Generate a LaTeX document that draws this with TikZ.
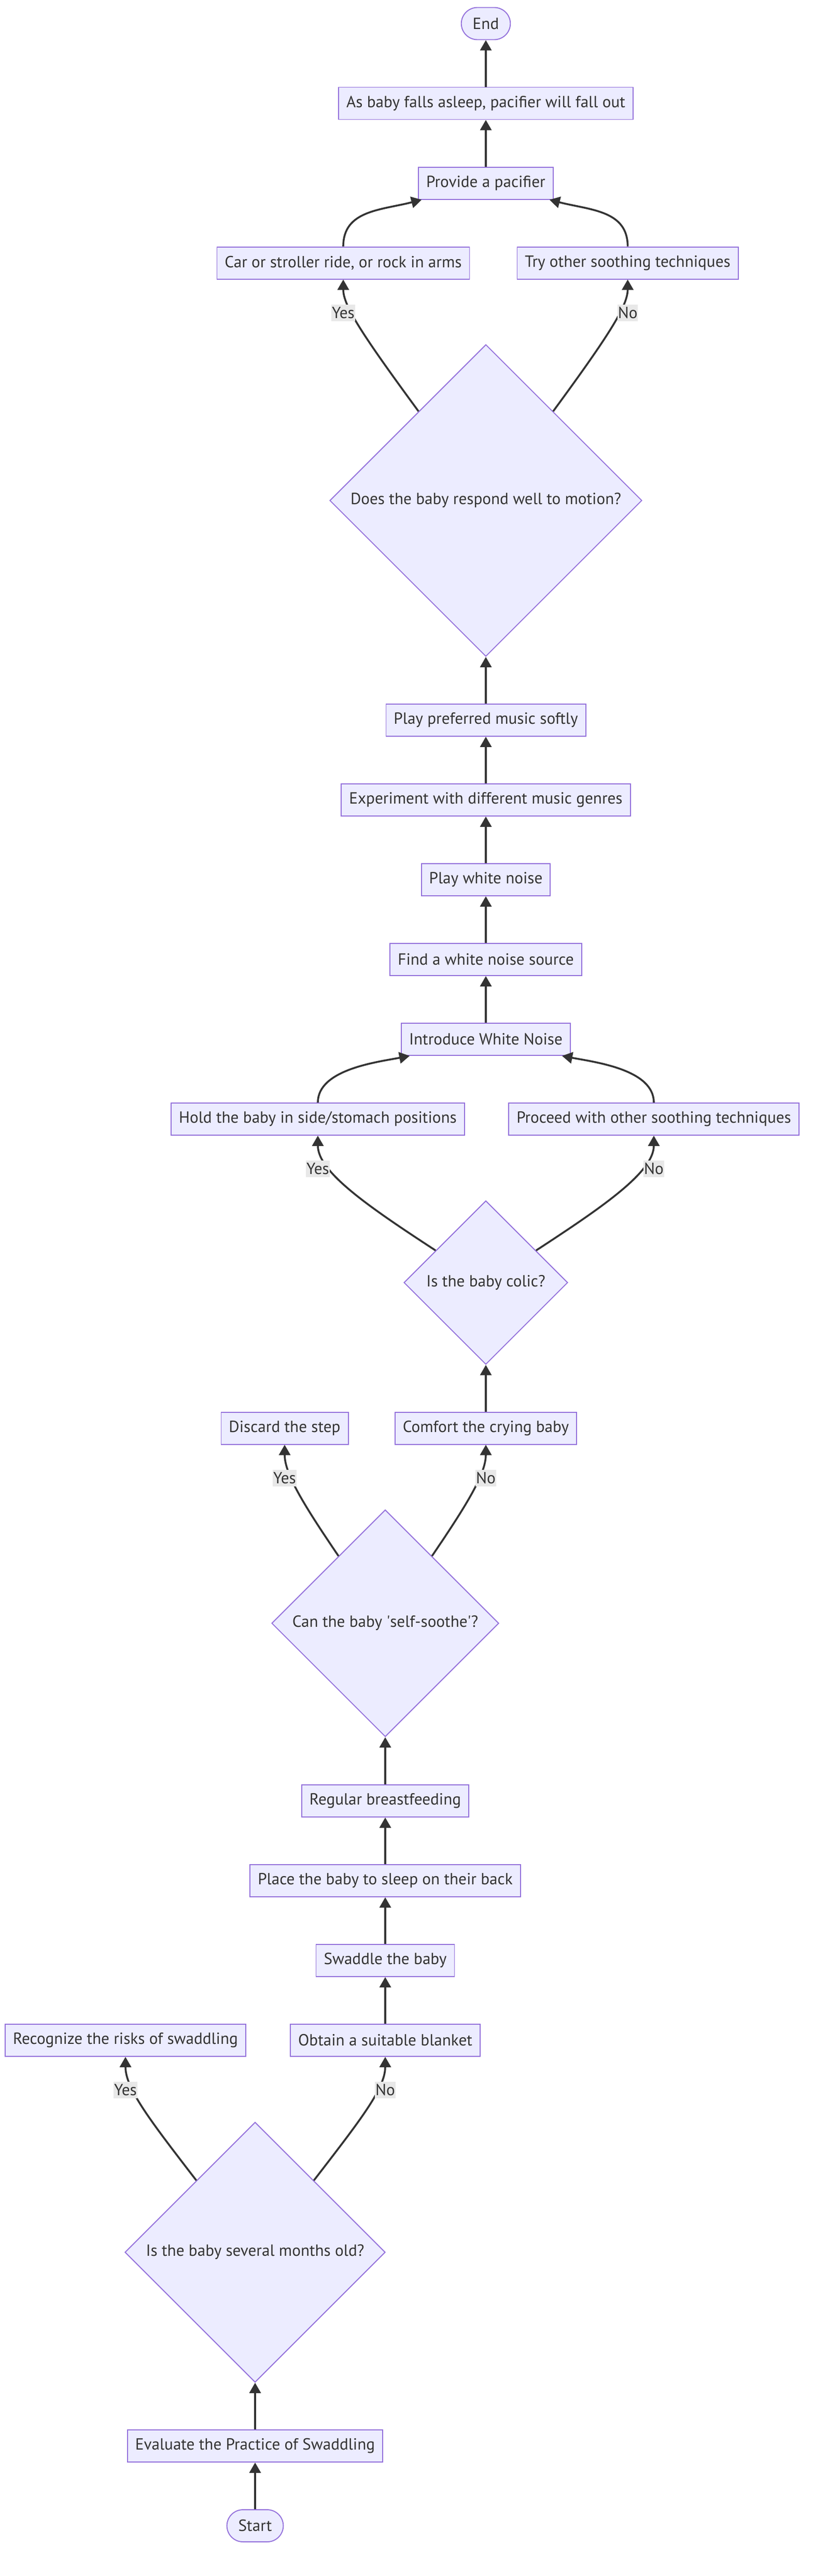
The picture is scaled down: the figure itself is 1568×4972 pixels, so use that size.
\documentclass[tikz,border=0pt]{standalone}
\usepackage{fontspec}
\setmainfont{PT Sans}
\usetikzlibrary{arrows.meta,shapes.geometric,calc}

\definecolor{boxfill}{HTML}{ECECFF}
\definecolor{boxline}{HTML}{9370DB}
\definecolor{ink}{HTML}{333333}
\definecolor{lblfill}{HTML}{E8E8E8}

\tikzset{
  stepbox/.style={draw=boxline,fill=boxfill,line width=1.9pt,minimum height=62pt,inner xsep=15pt,text=ink},
  term/.style={stepbox,rounded corners=31pt,inner xsep=22pt},
  decision/.style={diamond,aspect=1,draw=boxline,fill=boxfill,line width=1.9pt,inner sep=0pt,text=ink},
  flow/.style={draw=ink,line width=3.6pt,-{Triangle[length=20pt,width=22pt]}},
  lbl/.style={fill=lblfill,inner xsep=1pt,inner ysep=0pt,minimum height=32pt,text=ink}
}

\begin{document}
\begin{tikzpicture}[x=1pt,y=-1pt,font=\fontsize{31.2}{37}\selectfont]
\useasboundingbox (0,0) rectangle (1568,4972);
\pgfmathsetmacro{\C}{937}
\pgfmathsetmacro{\S}{743}
\pgfmathsetmacro{\W}{492}

\node[term] (end) at (\C,45.5) {End};
\node[stepbox] (fall) at (\C,199.5) {As baby falls asleep, pacifier will fall out};
\node[stepbox] (pacifier) at (\C,353.6) {Provide a pacifier};
\node[stepbox] (motion) at (662,507.6) {Car or stroller ride, or rock in arms};
\node[stepbox] (other) at (1210.6,507.6) {Try other soothing techniques};
\node[decision,minimum size=602pt] (dmotion) at (\C,966) {Does the baby respond well to motion?};
\node[stepbox] (music) at (\C,1390) {Play preferred music softly};
\node[stepbox] (genres) at (\C,1544) {Experiment with different music genres};
\node[stepbox] (play) at (\C,1698) {Play white noise};
\node[stepbox] (source) at (\C,1852) {Find a white noise source};
\node[stepbox] (noise) at (\C,2006) {Introduce White Noise};
\node[stepbox] (hold) at (613,2160) {Hold the baby in side/stomach positions};
\node[stepbox] (proceed) at (1261,2160) {Proceed with other soothing techniques};
\node[decision,minimum size=316pt] (dcolic) at (\C,2475.5) {Is the baby colic?};
\node[stepbox] (discard) at (549,2756.6) {Discard the step};
\node[stepbox] (comfort) at (\C,2756.6) {Comfort the crying baby};
\node[decision,minimum size=438pt] (dsoothe) at (\S,3133) {Can the baby \textquotesingle self-soothe\textquotesingle?};
\node[stepbox] (feed) at (\S,3476) {Regular breastfeeding};
\node[stepbox] (back) at (\S,3630) {Place the baby to sleep on their back};
\node[stepbox] (swaddle) at (\S,3784) {Swaddle the baby};
\node[stepbox] (blanket) at (\S,3938) {Obtain a suitable blanket};
\node[stepbox] (risks) at (242,3938) {Recognize the risks of swaddling};
\node[decision,minimum size=502pt] (dmonths) at (\W,4347) {Is the baby several months old?};
\node[stepbox] (evaluate) at (\W,4721) {Evaluate the Practice of Swaddling};
\node[term] (start) at (\W,4875) {Start};

\foreach \a/\b in {start/evaluate,evaluate/dmonths,blanket/swaddle,swaddle/back,back/feed,feed/dsoothe,comfort/dcolic,noise/source,source/play,play/genres,genres/music,music/dmotion,pacifier/fall,fall/end} {
\draw[flow] (\a.north) -- (\b.south);
}

% yes/no branches
\draw[flow] ($(dmonths.north)!0.45!(dmonths.west)$) .. controls +(-90,-117) and +(0,61) .. (risks.south);
\draw[flow] ($(dmonths.north)!0.45!(dmonths.east)$) .. controls +(90,-117) and +(0,61) .. (blanket.south);
\draw[flow] ($(dsoothe.north)!0.41!(dsoothe.west)$) .. controls +(-70,-103) and +(0,55) .. (discard.south);
\draw[flow] ($(dsoothe.north)!0.41!(dsoothe.east)$) .. controls +(70,-103) and +(0,55) .. (comfort.south);
\draw[flow] ($(dcolic.north)!0.61!(dcolic.west)$) .. controls +(-130,-85) and +(0,70) .. (hold.south);
\draw[flow] ($(dcolic.north)!0.61!(dcolic.east)$) .. controls +(130,-85) and +(0,70) .. (proceed.south);
\draw[flow] ($(dmotion.north)!0.43!(dmotion.west)$) .. controls +(-110,-150) and +(0,50) .. (motion.south);
\draw[flow] ($(dmotion.north)!0.43!(dmotion.east)$) .. controls +(110,-150) and +(0,50) .. (other.south);

% branches joining again
\draw[flow] (hold.north) .. controls +(0,-64) and +(-63,12) .. ([xshift=17pt]noise.south west);
\draw[flow] (proceed.north) .. controls +(0,-64) and +(63,12) .. ([xshift=-17pt]noise.south east);
\draw[flow] (motion.north) .. controls +(0,-70) and +(-78,20) .. ([xshift=7pt]pacifier.south west);
\draw[flow] (other.north) .. controls +(0,-70) and +(78,20) .. ([xshift=-8pt]pacifier.south east);

\foreach \n/\t in {motion/Yes,other/No,hold/Yes,proceed/No,discard/Yes,comfort/No,risks/Yes,blanket/No} {
\node[lbl] (l-\n) at ([yshift=-64pt]\n.south) {\t};
}
\end{tikzpicture}
\end{document}
